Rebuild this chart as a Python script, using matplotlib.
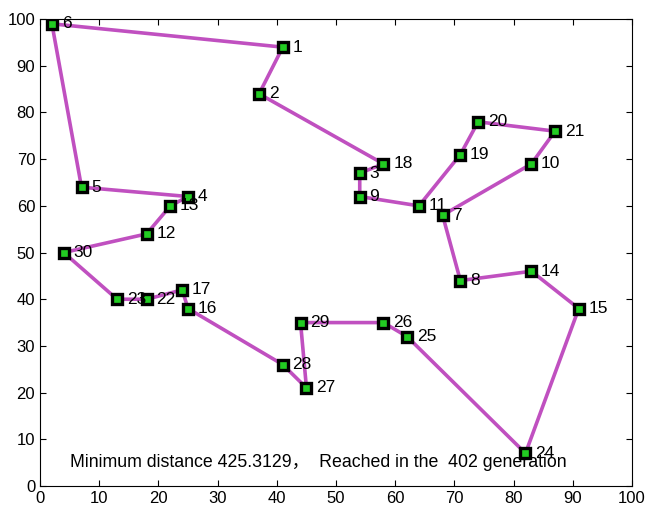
import numpy as np
import matplotlib.pyplot as plt

plt.rcParams['font.family'] = ['Liberation Sans', 'Noto Sans CJK SC', 'DejaVu Sans']

# city coordinates (Oliver30)
city_x = [41, 37, 54, 25, 7, 2, 68, 71, 54, 83, 64, 18, 22, 83, 91,
          25, 24, 58, 71, 74, 87, 18, 13, 82, 62, 58, 45, 41, 44, 4]
city_y = [94, 84, 67, 62, 64, 99, 58, 44, 62, 69, 60, 54, 60, 46, 38,
          38, 42, 69, 71, 78, 76, 40, 40, 7, 32, 35, 21, 26, 35, 50]

# best route found (1-based city numbers)
route = [6, 1, 2, 18, 3, 9, 11, 19, 20, 21, 10, 7, 8, 14, 15, 24, 25, 26,
         29, 27, 28, 16, 17, 22, 23, 30, 12, 13, 4, 5, 6]

min_dist = 425.3129
best_gen = 402

xs = np.array(city_x)
ys = np.array(city_y)
idx = np.array(route) - 1

fig = plt.figure(figsize=(6.57, 5.17), dpi=100)
ax = fig.add_axes([0.061, 0.060, 0.901, 0.903])

ax.plot(xs[idx], ys[idx], color='#c050c0', lw=2.6, zorder=2)
ax.plot(xs, ys, 's', ms=6.5, mfc='#22cc22', mec='black', mew=2.4, zorder=3)

for i in range(len(xs)):
    ax.annotate(str(i + 1), (xs[i], ys[i]), xytext=(7, 0), textcoords='offset points',
                va='center', ha='left', fontsize=12.5)

ax.text(5, 5, 'Minimum distance %.4f，  Reached in the  %d generation' % (min_dist, best_gen),
        fontsize=12.8, va='center', ha='left')

ax.set_xlim(0, 100)
ax.set_ylim(0, 100)
ax.set_xticks(np.arange(0, 101, 10))
ax.set_yticks(np.arange(0, 101, 10))
ax.tick_params(direction='in', top=True, right=True, labelsize=12, length=4)

fig.savefig('out.png', dpi=100)
